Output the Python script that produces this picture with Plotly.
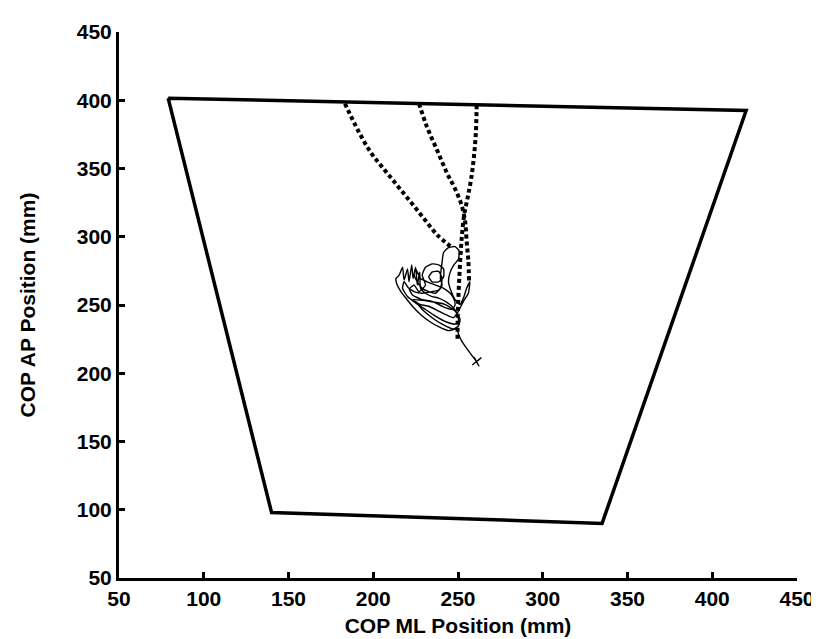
import plotly.graph_objects as go

# Support boundary polygon (mm)
boundary_x = [79, 420, 335, 140, 79]
boundary_y = [401.5, 392.5, 90, 98, 401.5]

# Dotted trajectories (mm)
path1_x = [183.3, 191.1, 198.9, 206.6, 214.4, 222.2, 229.9, 237.7, 245.5]
path1_y = [397.5, 377.7, 361.1, 349.1, 337.2, 325.3, 313.3, 301.4, 293.1]

path2_x = [227.0, 231.8, 237.7, 243.5, 248.4, 252.2, 254.2, 255.1, 256.1, 256.5]
path2_y = [397.5, 380.1, 363.4, 346.7, 334.8, 322.8, 311.0, 296.7, 282.3, 268.0]

path3_x = [261.0, 260.6, 259.4, 257.7, 255.5, 253.6, 252.2, 251.3, 250.5, 249.9, 249.7]
path3_y = [396.5, 377.7, 358.6, 342.0, 327.6, 315.7, 299.0, 282.3, 263.3, 244.1, 225.1]

# COP trace (mm)
cop_x = [258.4, 263.8, 261.1, 259.6, 262.3, 260.9, 257.6, 254.5, 251.8, 250.3, 249.3,
         244.4, 238.6, 232.8, 227.9, 223.1, 219.2, 216.3, 213.8, 213.4, 215.3,
         217.3, 218.2, 220.2, 221.1, 222.7, 223.5, 225.0, 226.0, 227.4, 227.9,
         230.8, 234.7, 238.6, 242.5, 246.4, 249.3, 250.3, 248.3, 242.5, 236.7, 230.8, 225.0, 220.2, 217.3,
         218.2, 221.1, 224.1, 227.0, 230.8, 228.9, 230.8, 234.7, 238.6, 241.5, 241.5, 238.6, 234.7, 232.8, 234.7, 238.6,
         240.6, 239.6, 236.7, 232.8, 228.9, 226.0, 224.1, 225.0,
         227.9, 231.8, 236.7, 241.5, 245.4, 247.3, 248.3, 246.4, 240.6, 234.7, 228.9, 223.1,
         221.1, 224.1, 228.9, 234.7, 238.6, 240.6, 239.6, 240.6, 241.5, 244.4, 248.3, 250.6, 250.3, 247.3,
         245.4, 244.4, 246.0, 248.3, 251.2, 253.2, 255.1, 257.0, 256.1, 253.2, 250.3, 247.3, 242.5, 238.6,
         232.8, 227.9, 223.1, 232.8, 242.5, 248.3, 251.2, 250.3, 247.3, 240.6, 234.7, 228.9, 225.0]
cop_y = [206.1, 211.6, 208.8, 211.6, 205.4, 208.5, 214.0, 219.3, 224.5, 228.8, 232.4,
         231.2, 234.1, 238.3, 243.1, 249.1, 255.1, 259.8, 265.8, 269.4, 271.8,
         277.7, 268.2, 276.5, 267.0, 279.4, 269.4, 277.7, 264.6, 274.1, 262.2,
         258.6, 256.2, 255.1, 252.7, 249.1, 244.3, 238.3, 236.0, 237.9, 241.9, 246.7, 251.5, 256.2, 262.2,
         267.0, 262.2, 264.6, 259.8, 264.6, 271.8, 277.7, 280.1, 279.4, 276.5, 270.6, 267.0, 267.0, 270.6, 274.1, 274.6,
         269.4, 262.2, 258.6, 259.8, 262.2, 267.0, 272.2, 276.5,
         269.4, 267.0, 264.6, 262.2, 258.6, 255.1, 250.3, 246.7, 249.1, 252.7, 253.9, 257.4,
         262.2, 259.8, 258.6, 259.8, 261.0, 264.6, 269.4, 281.3, 288.5, 292.0, 292.8, 289.7, 283.7, 278.9,
         274.1, 267.0, 259.8, 253.9, 250.3, 255.1, 262.2, 267.0, 258.6, 252.7, 245.5, 240.7, 243.1, 245.5,
         249.1, 250.3, 253.9, 252.7, 250.3, 245.5, 239.5, 234.8, 232.4, 236.0, 240.7, 246.7, 252.7]

x_ticks = [50, 100, 150, 200, 250, 300, 350, 400, 450]
y_ticks = [50, 100, 150, 200, 250, 300, 350, 400, 450]

fig = go.Figure()

fig.add_trace(go.Scatter(x=boundary_x, y=boundary_y, mode="lines",
                         line=dict(color="black", width=3.5), hoverinfo="skip"))
for px, py in [(path1_x, path1_y), (path2_x, path2_y), (path3_x, path3_y)]:
    fig.add_trace(go.Scatter(x=px, y=py, mode="lines",
                             line=dict(color="black", width=4, dash="4px,3px", shape="spline"),
                             hoverinfo="skip"))
fig.add_trace(go.Scatter(x=cop_x, y=cop_y, mode="lines",
                         line=dict(color="black", width=1.4, shape="spline", smoothing=0.5),
                         hoverinfo="skip"))

font_family = "Liberation Sans, Arial, sans-serif"
axis_common = dict(
    showgrid=False, zeroline=False, showline=True, linecolor="black", linewidth=3,
    ticks="inside", ticklen=6, tickwidth=3, tickcolor="black",
    tickfont=dict(family=font_family, size=21, color="black", weight="bold"),
    mirror=False,
)

fig.update_layout(
    width=819, height=639,
    margin=dict(l=111, r=21, t=19, b=61),
    paper_bgcolor="white", plot_bgcolor="white",
    showlegend=False,
    xaxis=dict(range=[50, 450], tickvals=x_ticks,
               title=dict(text="COP ML Position (mm)", standoff=10,
                          font=dict(family=font_family, size=21, color="black", weight="bold")),
               **axis_common),
    yaxis=dict(range=[50, 450], tickvals=y_ticks,
               title=dict(text="COP AP Position (mm)", standoff=36,
                          font=dict(family=font_family, size=21, color="black", weight="bold")),
               **axis_common),
)

fig.write_html("out.html")
